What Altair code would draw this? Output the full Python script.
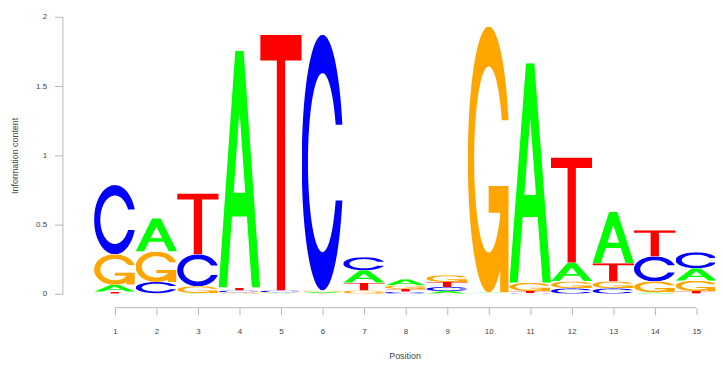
import base64
import numpy as np
import pandas as pd
import altair as alt

# ---- data (information content per letter) ----
positions = list(range(1, 16))
bits_A = [0.05, 0.24, 0.005, 1.71, 0.005, 0.01, 0.09, 0.045, 0.02, 0.005, 1.585, 0.135, 0.37, 0.01, 0.09]
bits_C = [0.50, 0.08, 0.23, 0.015, 0.015, 1.845, 0.095, 0.015, 0.03, 0.003, 0.005, 0.04, 0.04, 0.18, 0.115]
bits_G = [0.22, 0.22, 0.05, 0.01, 0.005, 0.01, 0.025, 0.025, 0.05, 1.92, 0.06, 0.05, 0.05, 0.08, 0.075]
bits_T = [0.015, 0.005, 0.44, 0.02, 1.845, 0.005, 0.055, 0.02, 0.035, 0.002, 0.015, 0.76, 0.13, 0.19, 0.02]
y_ticks = [0, 0.5, 1, 1.5, 2]

# ---- glyph outlines (unit square, seqLogo style) ----
def path_d(pts):
    return "M" + " L".join(f"{x*100:.2f},{(1-y)*100:.2f}" for x, y in pts) + " Z"

def ring():
    t_o = np.linspace(0.3, 2 * np.pi - 0.3, 140)
    outer = [(0.5 + 0.5 * np.cos(t), 0.5 + 0.5 * np.sin(t)) for t in t_o]
    yc = 0.5 + 0.5 * np.sin(0.3)
    ti = np.arcsin((yc - 0.5) / 0.35)
    t_i = np.linspace(2 * np.pi - ti, ti, 140)
    inner = [(0.5 + 0.35 * np.cos(t), 0.5 + 0.35 * np.sin(t)) for t in t_i]
    return outer + inner

r1 = 0.5 + 0.5 * np.cos(0.3)
glyphs = {
    "A": [path_d([(0, 0), (0.4, 1), (0.6, 1), (1, 0), (0.8, 0), (0.68, 0.3), (0.32, 0.3), (0.2, 0)])
          + " " + path_d([(0.36, 0.4), (0.5, 0.75), (0.64, 0.4)])],
    "C": [path_d(ring())],
    "G": [path_d(ring()),
          path_d([(r1, 0.4), (0.5, 0.4), (0.5, 0.3), (r1 - 0.2, 0.3), (r1 - 0.2, 0), (r1, 0)])],
    "T": [path_d([(0, 1), (1, 1), (1, 0.9), (0.6, 0.9), (0.6, 0), (0.4, 0), (0.4, 0.9), (0, 0.9)])],
}
colors = {"A": "#00FF00", "C": "#0000FF", "G": "#FFA500", "T": "#FF0000"}

def uri(letter):
    body = "".join(f'<path d="{d}" fill="{colors[letter]}" fill-rule="evenodd"/>' for d in glyphs[letter])
    svg = ('<svg xmlns="http://www.w3.org/2000/svg" width="100" height="100" '
           'viewBox="0 0 100 100" preserveAspectRatio="none">' + body + '</svg>')
    return "data:image/svg+xml;base64," + base64.b64encode(svg.encode()).decode()

urls = {k: uri(k) for k in "ACGT"}

rows = []
for letter, vals in zip("ACGT", [bits_A, bits_C, bits_G, bits_T]):
    for p, h in zip(positions, vals):
        rows.append({"pos": p, "letter": letter, "h": h, "url": urls[letter]})
df = pd.DataFrame(rows)

PLOT_W = 627.6
PLOT_H = 280
axis_color = "#b5b5b5"
label_color = "#444444"
font = "Liberation Sans"

xscale = alt.Scale(domain=[0.5, 15.45], nice=False, zero=False)
yscale = alt.Scale(domain=[0, 2], nice=False)

x_axis = alt.Axis(
    values=positions, format="d", title="Position", offset=14, tickSize=7,
    labelPadding=13, domain=False, grid=False, tickColor=axis_color,
    labelColor=label_color, labelFontSize=8, labelFont=font,
    titleFont=font, titleFontSize=9, titleFontWeight="normal", titleColor=label_color,
    titleY=48, titleBaseline="middle")

y_axis = alt.Axis(
    values=y_ticks, format="~g", title="Information content", offset=32, tickSize=8,
    labelPadding=8, grid=False, domainColor=axis_color, tickColor=axis_color,
    labelColor=label_color, labelFontSize=8, labelFont=font,
    titleFont=font, titleFontSize=9, titleFontWeight="normal", titleColor=label_color,
    titleX=-48, titleY=PLOT_H / 2, titleAngle=-90, titleAlign="center",
    titleBaseline="middle")

letters = alt.Chart(df).transform_stack(
    stack="h", groupby=["pos"], as_=["y0", "y1"],
    sort=[alt.SortField("h", order="ascending")]
).transform_calculate(
    x0="datum.pos - 0.5", x1="datum.pos + 0.5"
).mark_image(aspect=False, align="left", baseline="top", clip=True).encode(
    x=alt.X("x0:Q", scale=xscale, axis=x_axis),
    x2="x1:Q",
    y=alt.Y("y0:Q", scale=yscale, axis=y_axis),
    y2="y1:Q",
    url="url:N",
)

baseline = alt.Chart(pd.DataFrame({"x0": [positions[0]], "x1": [positions[-1]]})).mark_rule(
    color=axis_color, strokeWidth=1
).encode(
    x=alt.X("x0:Q", scale=xscale, axis=x_axis),
    x2="x1:Q",
    y=alt.value(PLOT_H + 14),
)

chart = alt.layer(letters, baseline).properties(
    width=PLOT_W, height=PLOT_H,
    autosize=alt.AutoSizeParams(type="none"),
    padding={"left": 87, "top": 7, "right": 0, "bottom": 70},
    background="white",
).configure_view(stroke=None)

chart.save("out.html", embed_options={"renderer": "svg", "actions": False})
